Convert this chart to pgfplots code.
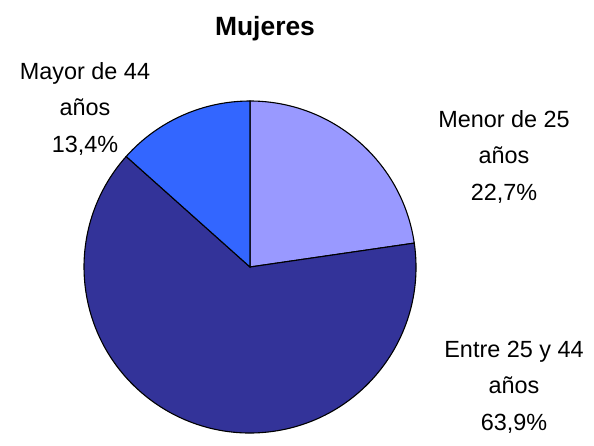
\documentclass[border=0pt]{standalone}
\usepackage{fontspec}
\setmainfont{Liberation Sans}
\usepackage{pgfplots}
\usepackage{pgfplotstable}
\pgfplotsset{compat=1.18}
\definecolor{menor}{RGB}{153,153,255}
\definecolor{entre}{RGB}{51,51,153}
\definecolor{mayor}{RGB}{51,102,255}

% shares in percent, clockwise from 12 o'clock
\pgfplotstableread{
grupo value
Menor 22.7
Entre 63.9
Mayor 13.4
}\piedata

\pgfplotstablegetelem{0}{value}\of\piedata \let\vA\pgfplotsretval
\pgfplotstablegetelem{1}{value}\of\piedata \let\vB\pgfplotsretval
\pgfplotstablegetelem{2}{value}\of\piedata \let\vC\pgfplotsretval
\pgfmathsetmacro\aA{90-3.6*\vA}
\pgfmathsetmacro\aB{\aA-3.6*\vB}
\pgfmathsetmacro\aC{\aB-3.6*\vC}

\tikzset{lbl/.style={anchor=base, inner sep=0pt, font=\fontsize{23.5}{28}\selectfont}}

\begin{document}
\begin{tikzpicture}
\begin{axis}[
  scale only axis,
  width=594bp, height=434bp,
  xmin=0, xmax=594, ymin=0, ymax=434,
  hide axis, clip=false,
]
\path (axis cs:0,0) rectangle (axis cs:594,434);
\filldraw[fill=menor, draw=black, line width=1.1bp]
  (axis cs:250,167) -- ++(90:166bp) arc[start angle=90, end angle=\aA, radius=166bp] -- cycle;
\filldraw[fill=entre, draw=black, line width=1.1bp]
  (axis cs:250,167) -- ++(\aA:166bp) arc[start angle=\aA, end angle=\aB, radius=166bp] -- cycle;
\filldraw[fill=mayor, draw=black, line width=1.1bp]
  (axis cs:250,167) -- ++(\aB:166bp) arc[start angle=\aB, end angle=\aC, radius=166bp] -- cycle;

\node[anchor=base, font=\fontsize{26.5}{30}\selectfont\bfseries] at (axis cs:265,398) {Mujeres};

\node[lbl] at (axis cs:85,355) {Mayor de 44};
\node[lbl] at (axis cs:85,319) {años};
\node[lbl] at (axis cs:85,282) {13,4\%};

\node[lbl] at (axis cs:504,307) {Menor de 25};
\node[lbl] at (axis cs:504,271) {años};
\node[lbl] at (axis cs:504,234) {22,7\%};

\node[lbl] at (axis cs:514,77) {Entre 25 y 44};
\node[lbl] at (axis cs:514,41) {años};
\node[lbl] at (axis cs:514,4) {63,9\%};
\end{axis}
\end{tikzpicture}
\end{document}
